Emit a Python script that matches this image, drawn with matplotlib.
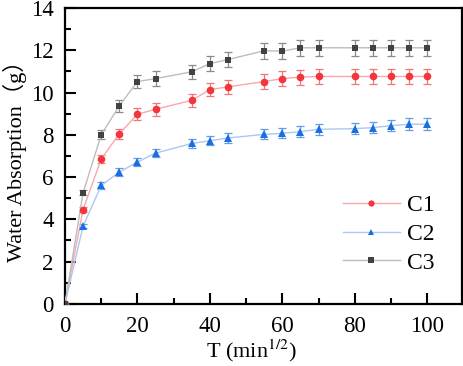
import matplotlib
matplotlib.use("Agg")
import matplotlib.pyplot as plt
from matplotlib.ticker import MultipleLocator

plt.rcParams['font.family'] = ['Liberation Serif', 'Noto Sans CJK SC']
plt.rcParams['mathtext.fontset'] = 'stix'

t = [0, 5, 10, 15, 20, 25, 35, 40, 45, 55, 60, 65, 70, 80, 85, 90, 95, 100]

c1 = [0, 4.46, 6.85, 8.05, 8.97, 9.21, 9.63, 10.14, 10.27, 10.52, 10.66,
      10.73, 10.76, 10.76, 10.76, 10.76, 10.76, 10.76]
c1_err = [0, 0.12, 0.2, 0.23, 0.29, 0.3, 0.32, 0.32, 0.33, 0.34, 0.34,
          0.36, 0.36, 0.36, 0.36, 0.36, 0.36, 0.36]

c2 = [0, 3.67, 5.6, 6.23, 6.71, 7.13, 7.59, 7.72, 7.85, 8.02, 8.07,
      8.15, 8.26, 8.29, 8.34, 8.43, 8.5, 8.5]
c2_err = [0, 0.1, 0.15, 0.18, 0.2, 0.2, 0.22, 0.22, 0.23, 0.24, 0.24,
          0.25, 0.25, 0.25, 0.26, 0.27, 0.28, 0.28]

c3 = [0, 5.25, 8.0, 9.37, 10.52, 10.66, 10.98, 11.37, 11.56, 11.98, 11.96,
      12.12, 12.12, 12.12, 12.12, 12.12, 12.12, 12.12]
c3_err = [0, 0.12, 0.22, 0.28, 0.32, 0.35, 0.34, 0.36, 0.36, 0.38, 0.38,
          0.38, 0.38, 0.38, 0.38, 0.38, 0.38, 0.38]

series = [
    ("C1", c1, c1_err, "o", "#f2363c", "#f8a8aa", "#f27578", 5.5),
    ("C2", c2, c2_err, "^", "#1a6ee0", "#a9c9f2", "#5f9be8", 5.5),
    ("C3", c3, c3_err, "s", "#424242", "#bdbdbd", "#8a8a8a", 4.8),
]

fig, ax = plt.subplots(figsize=(4.64, 3.66), dpi=100)
fig.subplots_adjust(left=0.14, right=0.995, top=0.978, bottom=0.17)

for name, y, err, mk, mc, lc, ec, ms in series:
    ax.errorbar(t, y, yerr=err, fmt='none', ecolor=ec, elinewidth=0.9,
                capsize=3, capthick=0.9, zorder=2)
    ax.plot(t, y, color=lc, linewidth=1.0, zorder=3)
    ax.plot(t, y, linestyle='none', marker=mk, markersize=ms,
            color=mc, markeredgewidth=0, zorder=4)
    ax.plot([], [], color=lc, linewidth=1.0, marker=mk, markersize=ms - 1,
            markerfacecolor=mc, markeredgewidth=0, label=name)

ax.set_xlim(0, 109.5)
ax.set_ylim(0, 14)
ax.xaxis.set_major_locator(MultipleLocator(20))
ax.xaxis.set_minor_locator(MultipleLocator(10))
ax.yaxis.set_major_locator(MultipleLocator(2))
ax.yaxis.set_minor_locator(MultipleLocator(1))
ax.tick_params(which='both', direction='in', width=1.5, labelsize=16.5,
               top=False, right=False)
ax.tick_params(which='major', length=8)
ax.tick_params(which='minor', length=4.5)
ax.tick_params(axis='x', which='major', pad=9)
ax.tick_params(axis='y', which='major', pad=8)
for sp in ax.spines.values():
    sp.set_linewidth(1.6)

ax.set_xlabel("T (min$^{1/2}$)", fontsize=16, labelpad=0)
ax.xaxis.label.set_x(0.47)
ax.set_ylabel("Water Absorption\uff08g\uff09", fontsize=16, labelpad=3)

leg = ax.legend(loc='lower right', bbox_to_anchor=(0.985, 0.03), frameon=False,
                fontsize=17, handlelength=2.4, handletextpad=0.3,
                labelspacing=0.3)
for txt in leg.get_texts():
    txt.set_family(['Liberation Serif'])

fig.savefig("out.png", dpi=100)
